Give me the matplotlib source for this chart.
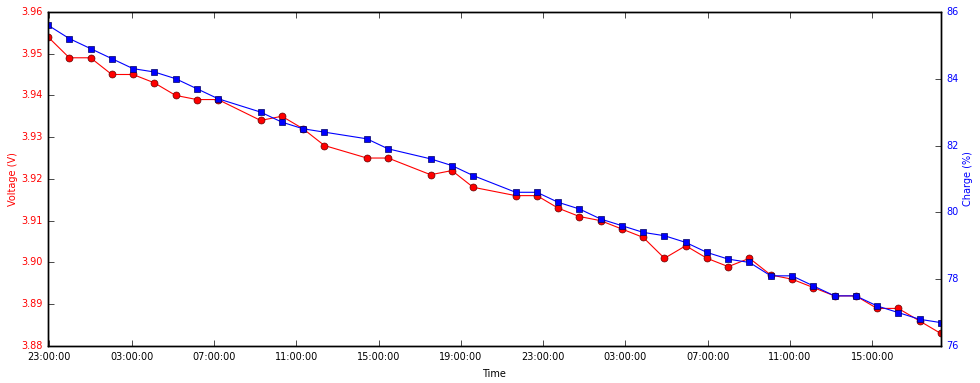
import matplotlib
matplotlib.use('Agg')
import matplotlib.pyplot as plt
import matplotlib.dates as mdates
import numpy as np
import datetime as dt

plt.style.use('classic')
plt.rcParams['font.family'] = ['DejaVu Sans']
plt.rcParams['font.size'] = 7

# sample index (roughly one reading every ~62 minutes, some readings missing)
sample_idx = [0, 1, 2, 3, 4, 5, 6, 7, 8, 10, 11, 12, 13, 15, 16, 18, 19, 20,
              22, 23, 24, 25, 26, 27, 28, 29, 30, 31, 32, 33, 34, 35, 36, 37,
              38, 39, 40, 41, 42]
voltage = [3.954, 3.949, 3.949, 3.945, 3.945, 3.943, 3.940, 3.939, 3.939,
           3.934, 3.935, 3.932, 3.928, 3.925, 3.925, 3.921, 3.922, 3.918,
           3.916, 3.916, 3.913, 3.911, 3.910, 3.908, 3.906, 3.901, 3.904,
           3.901, 3.899, 3.901, 3.897, 3.896, 3.894, 3.892, 3.892, 3.889,
           3.889, 3.886, 3.883]
charge = [85.6, 85.2, 84.9, 84.6, 84.3, 84.2, 84.0, 83.7, 83.4,
          83.0, 82.7, 82.5, 82.4, 82.2, 81.9, 81.6, 81.4, 81.1,
          80.6, 80.6, 80.3, 80.1, 79.8, 79.6, 79.4, 79.3, 79.1,
          78.8, 78.6, 78.5, 78.1, 78.1, 77.8, 77.5, 77.5, 77.2,
          77.0, 76.8, 76.7]

start = dt.datetime(2015, 3, 1, 22, 56)
times = [start + dt.timedelta(minutes=62 * i) for i in sample_idx]

fig = plt.figure(figsize=(9.8, 3.83), dpi=100, facecolor='white')
ax1 = fig.add_axes([0.049, 0.0966, 0.911, 0.8725])
ax1.plot(times, voltage, 'o-', color='red', markersize=5, linewidth=0.8,
         markeredgecolor='#600000', markeredgewidth=0.5)
ax1.set_ylim(3.88, 3.96)
ax1.set_ylabel('Voltage (V)', color='red', labelpad=2)
for lbl in ax1.get_yticklabels():
    lbl.set_color('red')
ax1.set_xlabel('Time')

ax2 = ax1.twinx()
ax2.plot(times, charge, 's-', color='blue', markersize=4.5, linewidth=0.8,
         markeredgecolor='#000060', markeredgewidth=0.5)
ax2.set_ylim(76, 86)
ax2.set_ylabel('Charge (%)', color='blue', labelpad=3)
for lbl in ax2.get_yticklabels():
    lbl.set_color('blue')

ax1.set_xlim(times[0], times[-1])
ax1.xaxis.set_major_locator(mdates.HourLocator(byhour=[3, 7, 11, 15, 19, 23]))
ax1.xaxis.set_major_formatter(mdates.DateFormatter('%H:%M:%S'))

fig.savefig('out.png', dpi=100, facecolor='white')
